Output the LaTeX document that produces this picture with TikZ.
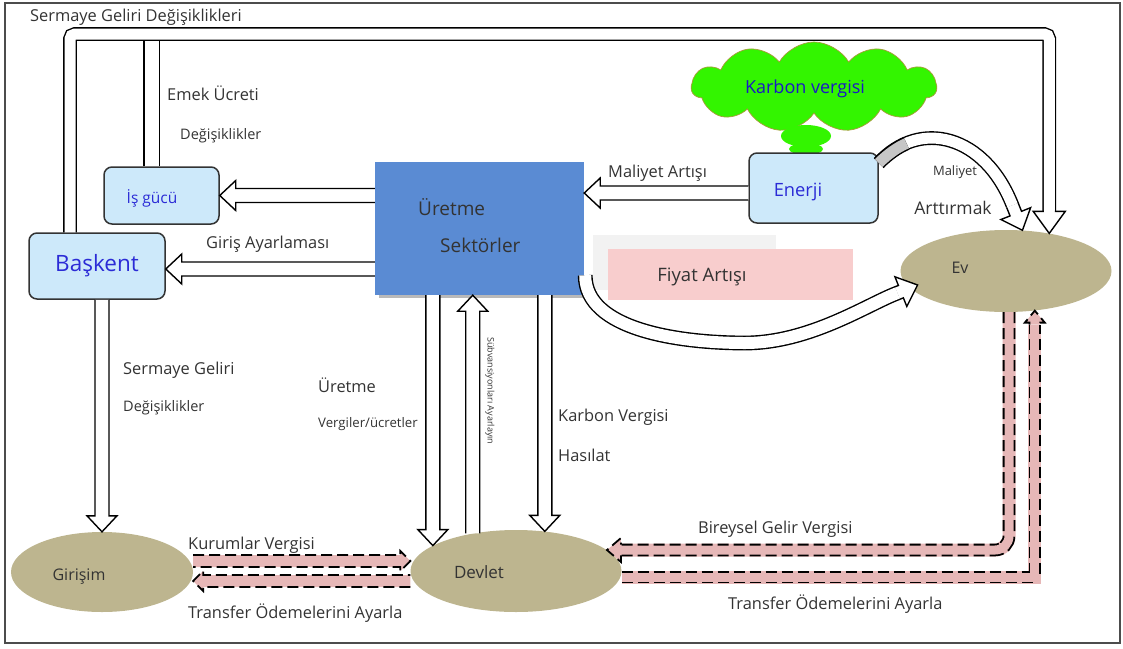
\documentclass[tikz,border=0pt]{standalone}
\usepackage{fontspec}
\setmainfont{Open Sans}
\usetikzlibrary{calc,shapes.geometric,shapes.symbols}

\definecolor{boxblue}{HTML}{CDE9FA}
\definecolor{prodblue}{HTML}{5A8BD3}
\definecolor{khaki}{HTML}{BDB58F}
\definecolor{pinkband}{HTML}{E6B7B7}
\definecolor{pinkbox}{HTML}{F8CDCD}
\definecolor{cloudgreen}{HTML}{33F500}
\definecolor{cloudline}{HTML}{A89A3A}
\definecolor{textblue}{HTML}{2B2BD6}
\definecolor{textgray}{HTML}{333333}

\tikzset{
  shaft/.store in=\blkpw, headw/.store in=\blkhw, headl/.store in=\blkhl,
  shaft=7pt, headw=15pt, headl=16pt,
  blk/.style={draw=black, fill=white, line width=1.4pt, line join=miter,
    to path={let \p1=(\tikztostart), \p2=(\tikztotarget),
      \n1={atan2(\y2-\y1,\x2-\x1)}, \p3=($(\p2)+(\n1:-\blkhl)$) in
      ($(\p1)+(\n1+90:\blkpw)$) -- ($(\p3)+(\n1+90:\blkpw)$)
      -- ($(\p3)+(\n1+90:\blkhw)$) -- (\p2) -- ($(\p3)+(\n1-90:\blkhw)$)
      -- ($(\p3)+(\n1-90:\blkpw)$) -- ($(\p1)+(\n1-90:\blkpw)$)}},
  dblk/.style={blk, fill=pinkband, line width=1.8pt, dash pattern=on 11pt off 5pt},
  pipe/.style={draw=black, double=white, double distance=11pt, line width=1.4pt},
  band/.style={draw=pinkband, line width=13pt},
  dpipe/.style={draw=black, line width=12.6pt, dash pattern=on 11pt off 5pt,
    postaction={draw=pinkband, line width=9pt, solid}},
  box/.style={draw=black!80, fill=boxblue, rounded corners=8pt, line width=1.5pt, inner sep=0pt},
  oval/.style={ellipse, fill=khaki, inner sep=0pt},
  txt/.style={text=textgray, font=\fontsize{16.4}{18}\selectfont, inner sep=0pt},
  smalltxt/.style={txt, font=\fontsize{14.5}{16}\selectfont},
  bluetxt/.style={text=textblue, inner sep=0pt}
}

\begin{document}
\begin{tikzpicture}[x=1pt, y=-1pt]
\useasboundingbox (0,0) rectangle (1123,648);
\draw[line width=1.2pt, black!70] (5,3) rectangle (1120,643);

% boxes and ovals
\node[box, minimum width=115pt, minimum height=57pt] (isgucu) at (161.5,195.5) {};
\node[box, minimum width=136pt, minimum height=66pt, bluetxt, font=\fontsize{22.5}{24}\selectfont] (baskent) at (97,266) {Başkent};
\fill[gray!55] (379,289) rectangle (586,298);
\node[fill=prodblue, minimum width=209pt, minimum height=133pt, inner sep=0pt] (uretme) at (479.5,228.5) {};
\node[cloud, cloud puffs=11, cloud puff arc=120, aspect=2.8, fill=cloudgreen, draw=cloudline, line width=0.7pt,
  minimum width=245pt, minimum height=90pt, inner sep=0pt] (karbon) at (814,87) {};
\node[ellipse, fill=cloudgreen, minimum width=50pt, minimum height=22pt, inner sep=0pt] (stem1) at (806,136) {};
\node[ellipse, fill=cloudgreen, minimum width=34pt, minimum height=12pt, inner sep=0pt] (stem2) at (806,149) {};
\node[box, minimum width=129pt, minimum height=70pt] (enerji) at (813.5,188) {};
\node[fill=black!5, minimum width=183pt, minimum height=55pt, inner sep=0pt] (fiyatbg) at (684.5,262.5) {};
\node[fill=pinkbox, minimum width=245pt, minimum height=51pt, inner sep=0pt] (fiyat) at (730.5,274.5) {};
\node[oval, minimum width=211pt, minimum height=82pt] (ev) at (1006,271) {};
\node[oval, minimum width=182pt, minimum height=80pt] (girisim) at (102,572) {};
\node[oval, minimum width=211pt, minimum height=82pt] (devlet) at (516,571) {};

% big loop on top
\draw[pipe, double distance=14pt] ([xshift=-10pt]isgucu.north) -- ([xshift=-10pt]isgucu.north |- 0,40);
\draw[pipe, rounded corners=5pt] ([xshift=-27pt]baskent.north) |- (ev.41 |- 0,34) -- (ev.41 |- 0,212);
\path[blk, shaft=6.2pt, headw=16pt, headl=22pt] (ev.41 |- 0,212) to (ev.41);

% straight arrows
\path[blk] (uretme.west |- isgucu.east) to (isgucu.east);
\path[blk] ([yshift=-3pt]uretme.west |- baskent.east) to ([yshift=-3pt]baskent.east);
\path[blk] ([yshift=-5pt]enerji.west) to ([yshift=-5pt]enerji.west -| uretme.east);
\path[blk] ([xshift=5pt]baskent.south) to (girisim.north);
\path[blk] (uretme.south -| devlet.163) to (devlet.163);
\path[blk] (devlet.139) to (devlet.139 |- uretme.south);
\path[blk] (uretme.south -| devlet.54) to (devlet.54);

% curved arrows
\draw[pipe] ([yshift=25pt]enerji.east) .. controls (920,118) and (985,135) .. ([shift={(-10pt,25pt)}]ev.68);
\draw[pipe, double=gray!45] ([yshift=25pt]enerji.east) .. controls (888,154) and (897,147.5) .. (906.5,143.4);
\path[blk, shaft=6.2pt, headw=16pt, headl=18pt] ([shift={(-10pt,25pt)}]ev.68) to (ev.68);
\draw[pipe, double distance=12pt] ([shift={(1pt,20pt)}]uretme.south east) .. controls (585,330) and (680,343) .. (745,343)
  .. controls (810,343) and (868,304) .. ([shift={(-9pt,-8pt)}]ev.188);
\path[blk, shaft=6.7pt, headw=16pt, headl=18pt] ([shift={(-9pt,-8pt)}]ev.188) to ([xshift=11pt]ev.188);

% dashed tax arrows
\path[dblk, shaft=6pt, headw=10pt, headl=10pt] ([yshift=11pt]girisim.east) to ([yshift=10pt]devlet.west);
\path[dblk, shaft=6pt, headw=10pt, headl=10pt] ([yshift=-10pt]devlet.west) to ([yshift=-9pt]girisim.east);
\def\bandone{([xshift=3pt]ev.south) |- ([xshift=14pt]devlet.13)}
\def\bandtwo{([yshift=-6pt]devlet.east) -| ([yshift=-14pt]ev.306)}
\draw[band, rounded corners=14pt] \bandone;
\draw[dpipe, rounded corners=14pt] \bandone;
\path[dblk, shaft=5.4pt, headw=12pt, headl=14pt] ([xshift=14pt]devlet.13) to (devlet.13);
\draw[band] \bandtwo;
\draw[dpipe] \bandtwo;
\path[dblk, shaft=5.4pt, headw=10pt, headl=12pt] ([yshift=-14pt]ev.306) to (ev.306);

% texts
\node[txt, anchor=west] (title) at (30,17) {Sermaye Geliri Değişiklikleri};
\node[txt, anchor=west] (emek) at (167,93) {Emek Ücreti};
\node[smalltxt, anchor=west] (emekdeg) at (180,136) {Değişiklikler};
\node[txt, anchor=west] (giris) at (206,244) {Giriş Ayarlaması};
\node[txt, anchor=west] (maliyet) at (608,173) {Maliyet Artışı};
\node[txt, font=\fontsize{13}{15}\selectfont] (maliyet2) at (955,172) {Maliyet};
\node[txt, font=\fontsize{17.5}{19}\selectfont] (arttir) at (953,208) {Arttırmak};
\node[txt, anchor=west] (sermaye) at (123,370) {Sermaye Geliri};
\node[smalltxt, anchor=west] (sermayedeg) at (123,408) {Değişiklikler};
\node[txt, anchor=west] (uretvergi) at (318,385) {Üretme};
\node[txt, anchor=west, font=\fontsize{13.2}{15}\selectfont] (vergiler) at (318,424) {Vergiler/ücretler};
\node[txt, font=\fontsize{9}{10}\selectfont, rotate=-90] (subv) at (490,391) {Sübvansiyonları Ayarlayın};
\node[txt, anchor=west] (karbonv) at (558,417) {Karbon Vergisi};
\node[txt, anchor=west] (hasilat) at (558,455) {Hasılat};
\node[txt, anchor=west] (kurumlar) at (188,545) {Kurumlar Vergisi};
\node[txt, anchor=west] (transfer1) at (188,613) {Transfer Ödemelerini Ayarla};
\node[txt, anchor=west] (bireysel) at (698,529) {Bireysel Gelir Vergisi};
\node[txt, anchor=west] (transfer2) at (728,604) {Transfer Ödemelerini Ayarla};
\node[txt, font=\fontsize{16}{18}\selectfont] (evtxt) at (960,268) {Ev};
\node[txt, font=\fontsize{16}{18}\selectfont] (girisimtxt) at (79,577) {Girişim};
\node[txt, font=\fontsize{17}{19}\selectfont] (devlettxt) at (479,572) {Devlet};
\node[txt, anchor=west, font=\fontsize{19}{21}\selectfont] (uret1) at (418,207) {Üretme};
\node[txt, anchor=west, font=\fontsize{19}{21}\selectfont] (uret2) at (440,245) {Sektörler};
\node[bluetxt, text=blue!75!black!90, font=\fontsize{18}{20}\selectfont] (karbontxt) at (805,89) {Karbon vergisi};
\node[bluetxt, font=\fontsize{18.3}{20}\selectfont] (enerjitxt) at (798,192) {Enerji};
\node[bluetxt, font=\fontsize{15.5}{17}\selectfont] (isgucutxt) at (152,198) {İş gücü};
\node[txt, font=\fontsize{18.5}{20}\selectfont] (fiyattxt) at (702,277) {Fiyat Artışı};
\end{tikzpicture}
\end{document}
